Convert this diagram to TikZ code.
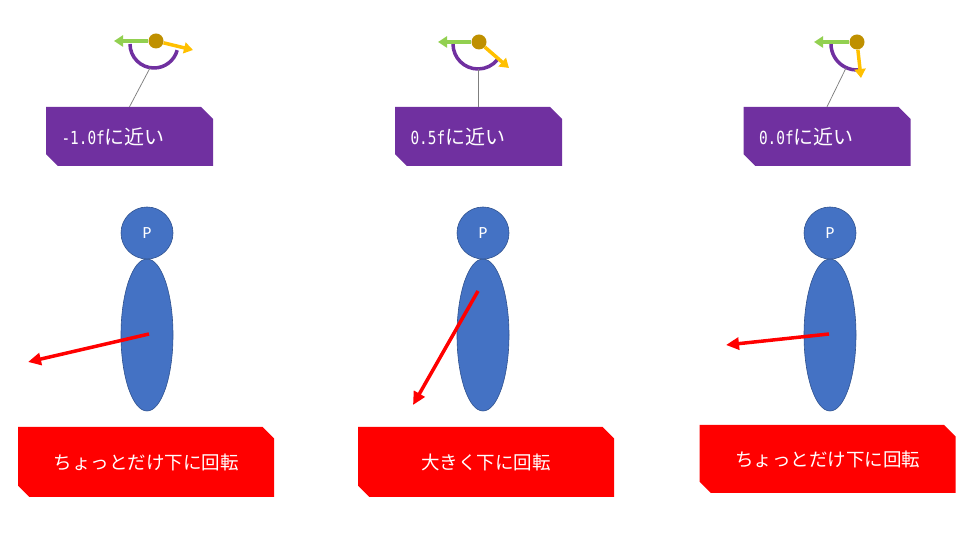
\documentclass[tikz,border=0pt]{standalone}
\usepackage{fontspec}
\usepackage{tikz}
\usetikzlibrary{shapes.misc,shapes.geometric,arrows.meta}
\newfontfamily\cjk{Noto Sans CJK JP}
\newfontfamily\pfont{Carlito}
\newfontfamily\monofnt[FakeStretch=0.8]{DejaVu Sans Mono}
\newcommand{\mono}[1]{{\monofnt\fontsize{18bp}{20bp}\selectfont #1}}
\definecolor{boxpurple}{HTML}{7030A0}
\definecolor{personblue}{HTML}{4472C4}
\definecolor{personedge}{HTML}{2F528F}
\definecolor{arrowgreen}{HTML}{92D050}
\definecolor{arrowyellow}{HTML}{FFC000}
\definecolor{dotgold}{HTML}{BF9000}
\definecolor{pointergray}{HTML}{7F7F7F}

\begin{document}
\begin{tikzpicture}[>={Triangle[length=13bp,width=12bp]},line join=bevel,
  snipbox/.style={chamfered rectangle,
                  chamfered rectangle corners={north east,south west},
                  chamfered rectangle xsep=10bp,
                  inner sep=0pt,
                  minimum width=#1,
                  text=white},
  valbox/.style={snipbox=167bp,fill=boxpurple,minimum height=59bp,
                 font=\cjk\fontsize{20bp}{22bp}\selectfont,
                 text width=136bp,align=left},
  turnbox/.style={snipbox=256bp,fill=red,minimum height=70bp,
                  font=\cjk\fontsize{18.5bp}{21bp}\selectfont},
  head/.style={circle,fill=personblue,draw=personedge,line width=0.6bp,
               minimum size=52bp,inner sep=0pt,text=white,
               font=\pfont\fontsize{17bp}{19bp}\selectfont},
  body/.style={ellipse,fill=personblue,draw=personedge,line width=0.6bp,
               minimum width=52bp,minimum height=152bp,inner sep=0pt},
  dot/.style={circle,fill=dotgold,minimum size=15bp,inner sep=0pt},
  icoarrow/.style={->,>={Triangle[length=9bp,width=11bp]},line width=3.5bp},
  anglearc/.style={draw=boxpurple,line width=3.5bp},
  pointer/.style={draw=pointergray,line width=0.75bp},
  turn/.style={->,draw=red,line width=3.5bp},
  ]
\useasboundingbox (0,0) rectangle (960bp,540bp);
%% angle icons
  \draw [anglearc] (154bp,496bp) ++(180:24bp) arc[start angle=180,end angle=345,radius=24bp];
  \draw [anglearc] (478bp,496bp) ++(180:25bp) arc[start angle=180,end angle=322,radius=25bp];
  \draw [anglearc] (857bp,496bp) ++(180:26bp) arc[start angle=180,end angle=277,radius=26bp];
  \coordinate (arcpt1) at (150bp,472bp);
  \coordinate (arcpt2) at (478.5bp,471bp);
  \coordinate (arcpt3) at (846bp,472bp);
  \coordinate (gtip1) at (114bp,499bp);
  \coordinate (ytip1) at (193bp,490bp);
  \coordinate (gtip2) at (438bp,498bp);
  \coordinate (ytip2) at (509bp,472bp);
  \coordinate (gtip3) at (814bp,498bp);
  \coordinate (ytip3) at (861bp,462bp);
  \node (dot1) at (156bp,499bp) [dot] {};
  \node (dot2) at (479bp,498bp) [dot] {};
  \node (dot3) at (857bp,498bp) [dot] {};
  \draw [icoarrow,arrowgreen] (dot1) -- (gtip1);
  \draw [icoarrow,arrowyellow] (dot1) -- (ytip1);
  \draw [icoarrow,arrowgreen] (dot2) -- (gtip2);
  \draw [icoarrow,arrowyellow] (dot2) -- (ytip2);
  \draw [icoarrow,arrowgreen] (dot3) -- (gtip3);
  \draw [icoarrow,arrowyellow] (dot3) -- (ytip3);
%% value boxes
  \node (val1) at (129.5bp,403.5bp) [valbox] {\mono{-1.0f}に近い};
  \node (val2) at (478.5bp,403.5bp) [valbox] {\mono{0.5f}に近い};
  \node (val3) at (827bp,403.5bp) [valbox] {\mono{0.0f}に近い};
  \draw [pointer] (val1.north) -- (arcpt1);
  \draw [pointer] (val2.north) -- (arcpt2);
  \draw [pointer] (val3.north) -- (arcpt3);
%% persons
  \node (body1) at (147bp,205bp) [body] {};
  \node (head1) at (147bp,307bp) [head] {P};
  \node (body2) at (483bp,205bp) [body] {};
  \node (head2) at (483bp,307bp) [head] {P};
  \node (body3) at (830bp,205bp) [body] {};
  \node (head3) at (830bp,307bp) [head] {P};
  \coordinate (turn1s) at (149bp,206bp);
  \coordinate (turn1e) at (28bp,178bp);
  \coordinate (turn2s) at (478bp,249bp);
  \coordinate (turn2e) at (413bp,135bp);
  \coordinate (turn3s) at (829bp,206bp);
  \coordinate (turn3e) at (726bp,195bp);
  \draw [turn] (turn1s) -- (turn1e);
  \draw [turn] (turn2s) -- (turn2e);
  \draw [turn] (turn3s) -- (turn3e);
%% result boxes
  \node (res1) at (146bp,78bp) [turnbox] {ちょっとだけ下に回転};
  \node (res2) at (486bp,78bp) [turnbox] {大きく下に回転};
  \node (res3) at (827.5bp,81bp) [turnbox,minimum height=68bp] {ちょっとだけ下に回転};
%
\end{tikzpicture}
\end{document}
